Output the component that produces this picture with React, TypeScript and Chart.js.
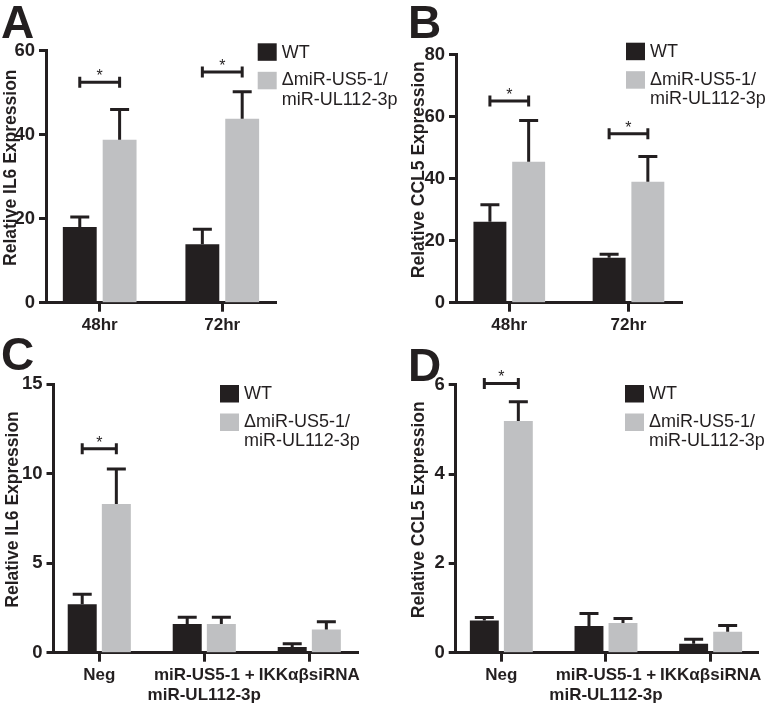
import React, { useEffect, useRef } from 'react';
import { Chart, registerables } from 'chart.js';

Chart.register(...registerables);

const FONT = '"Liberation Sans", Arial, Helvetica, sans-serif';
const INK = '#231f20';
const GREY = '#bfc0c2';

// Legend / series names
const seriesWT = 'WT';
const seriesKO = ['\u0394miR-US5-1/', 'miR-UL112-3p'];

// Categories
const timeCats: (string | string[])[] = ['48hr', '72hr'];
const treatCats: (string | string[])[] = ['Neg', ['miR-US5-1 +', 'miR-UL112-3p'], 'IKK\u03b1\u03b2siRNA'];

// Panel A – Relative IL6 Expression (time course)
const aWT = [18.0, 13.9];
const aWTErr = [2.4, 3.6];
const aKO = [38.8, 43.8];
const aKOErr = [7.2, 6.4];
const aSig = [52.5, 54.9];

// Panel B – Relative CCL5 Expression (time course)
const bWT = [26.1, 14.5];
const bWTErr = [5.5, 1.1];
const bKO = [45.5, 39.0];
const bKOErr = [13.3, 8.2];
const bSig = [65.1, 54.5];

// Panel C – Relative IL6 Expression (treatments)
const cWT = [2.7, 1.6, 0.32];
const cWTErr = [0.56, 0.38, 0.18];
const cKO = [8.31, 1.6, 1.29];
const cKOErr = [1.95, 0.38, 0.44];
const cSig = [11.4, null, null];

// Panel D – Relative CCL5 Expression (treatments)
const dWT = [0.72, 0.6, 0.2];
const dWTErr = [0.07, 0.28, 0.1];
const dKO = [5.19, 0.665, 0.47];
const dKOErr = [0.43, 0.1, 0.14];
const dSig = [6.03, null, null];

type PanelCfg = {
  letter: string;
  letterX: number;
  letterY: number;
  title: string;
  titleX: number;
  cats: (string | string[])[];
  wt: number[];
  wtErr: number[];
  ko: number[];
  koErr: number[];
  sig: (number | null)[];
  yMax: number;
  yStep: number;
  area: { left: number; top: number; right: number; bottom: number };
  xMin: number;
  xMax: number;
  legend: { x: number; y: number };
};

const W = 766;
const H = 706;
const Y_W = 40;
const X_H = 53;

const panels: PanelCfg[] = [
  {
    letter: 'A', letterX: 1, letterY: 37.5, title: 'Relative IL6 Expression', titleX: 11,
    cats: timeCats, wt: aWT, wtErr: aWTErr, ko: aKO, koErr: aKOErr, sig: aSig,
    yMax: 60, yStep: 20,
    area: { left: 46, top: 50.7, right: 276.7, bottom: 302.7 },
    xMin: -0.438, xMax: 1.444,
    legend: { x: 257.7, y: 43.3 },
  },
  {
    letter: 'B', letterX: 408, letterY: 37.5, title: 'Relative CCL5 Expression', titleX: 419,
    cats: timeCats, wt: bWT, wtErr: bWTErr, ko: bKO, koErr: bKOErr, sig: bSig,
    yMax: 80, yStep: 20,
    area: { left: 456, top: 54.7, right: 682, bottom: 302.7 },
    xMin: -0.447, xMax: 1.449,
    legend: { x: 626, y: 42.7 },
  },
  {
    letter: 'C', letterX: 1, letterY: 370, title: 'Relative IL6 Expression', titleX: 13,
    cats: treatCats, wt: cWT, wtErr: cWTErr, ko: cKO, koErr: cKOErr, sig: cSig,
    yMax: 15, yStep: 5,
    area: { left: 53.5, top: 384.2, right: 358, bottom: 652.7 },
    xMin: -0.436, xMax: 2.464,
    legend: { x: 220, y: 385 },
  },
  {
    letter: 'D', letterX: 408, letterY: 381, title: 'Relative CCL5 Expression', titleX: 419,
    cats: treatCats, wt: dWT, wtErr: dWTErr, ko: dKO, koErr: dKOErr, sig: dSig,
    yMax: 6, yStep: 2,
    area: { left: 455.7, top: 384.8, right: 761, bottom: 652.7 },
    xMin: -0.436, xMax: 2.46,
    legend: { x: 625, y: 385 },
  },
];

function makeChart(canvas: HTMLCanvasElement, cfg: PanelCfg) {
  const overlay = {
    id: 'overlay',
    afterDatasetsDraw(chart: any) {
      const ctx: CanvasRenderingContext2D = chart.ctx;
      const ys = chart.scales.y;
      const ca = chart.chartArea;
      const m0 = chart.getDatasetMeta(0);
      const m1 = chart.getDatasetMeta(1);
      ctx.save();
      ctx.strokeStyle = INK;
      ctx.fillStyle = INK;
      ctx.lineWidth = 3;
      ctx.lineCap = 'butt';
      // error bars (upper only)
      const sets: [any, number[], number[]][] = [
        [m0, cfg.wt, cfg.wtErr],
        [m1, cfg.ko, cfg.koErr],
      ];
      sets.forEach(([m, v, e]) => {
        m.data.forEach((bar: any, i: number) => {
          const yt = ys.getPixelForValue(v[i] + e[i]);
          ctx.beginPath();
          ctx.moveTo(bar.x, bar.y);
          ctx.lineTo(bar.x, yt);
          ctx.moveTo(bar.x - 9.5, yt);
          ctx.lineTo(bar.x + 9.5, yt);
          ctx.stroke();
        });
      });
      // significance brackets
      cfg.sig.forEach((s, i) => {
        if (s == null) return;
        const x1 = m0.data[i].x;
        const x2 = m1.data[i].x;
        const y = ys.getPixelForValue(s);
        ctx.beginPath();
        ctx.moveTo(x1, y);
        ctx.lineTo(x2, y);
        ctx.moveTo(x1, y - 5.5);
        ctx.lineTo(x1, y + 5.5);
        ctx.moveTo(x2, y - 5.5);
        ctx.lineTo(x2, y + 5.5);
        ctx.stroke();
        ctx.font = `16px ${FONT}`;
        ctx.textAlign = 'center';
        ctx.textBaseline = 'alphabetic';
        ctx.fillText('*', (x1 + x2) / 2, y - 1);
      });
      // legend
      const lx = cfg.legend.x;
      const ly = cfg.legend.y;
      ctx.fillStyle = INK;
      ctx.fillRect(lx, ly, 19, 17.5);
      ctx.fillStyle = GREY;
      ctx.fillRect(lx, ly + 28.5, 19, 17.5);
      ctx.fillStyle = INK;
      ctx.font = `18px ${FONT}`;
      ctx.textAlign = 'left';
      ctx.textBaseline = 'middle';
      ctx.fillText(seriesWT, lx + 24, ly + 9.5);
      ctx.fillText(seriesKO[0], lx + 24, ly + 37);
      ctx.fillText(seriesKO[1], lx + 24, ly + 56.5);
      // panel letter
      ctx.font = `bold 46px ${FONT}`;
      ctx.textBaseline = 'alphabetic';
      ctx.fillText(cfg.letter, cfg.letterX, cfg.letterY);
      // y axis title
      ctx.translate(cfg.titleX, (ca.top + ca.bottom) / 2 - 9);
      ctx.rotate(-Math.PI / 2);
      ctx.font = `bold 17.5px ${FONT}`;
      ctx.textAlign = 'center';
      ctx.textBaseline = 'middle';
      ctx.fillText(cfg.title, 0, 0);
      ctx.restore();
    },
  };

  const tickFont = { family: FONT, size: 17, weight: 'bold' as const, lineHeight: 1.17 };

  return new Chart(canvas, {
    type: 'bar',
    data: {
      datasets: [
        {
          label: seriesWT,
          data: cfg.wt.map((y, i) => ({ x: i, y })),
          backgroundColor: INK,
          borderWidth: 0,
          categoryPercentage: 0.65,
          barPercentage: 0.85,
        },
        {
          label: seriesKO.join(''),
          data: cfg.ko.map((y, i) => ({ x: i, y })),
          backgroundColor: GREY,
          borderWidth: 0,
          categoryPercentage: 0.65,
          barPercentage: 0.85,
        },
      ],
    },
    options: {
      responsive: false,
      animation: false,
      devicePixelRatio: 1,
      events: [],
      layout: {
        padding: {
          left: cfg.area.left - Y_W,
          top: cfg.area.top,
          right: W - cfg.area.right,
          bottom: Math.max(0, H - cfg.area.bottom - X_H),
        },
      },
      plugins: {
        legend: { display: false },
        tooltip: { enabled: false },
        title: { display: false },
      },
      scales: {
        x: {
          type: 'linear',
          min: cfg.xMin,
          max: cfg.xMax,
          bounds: 'data',
          offset: false,
          afterBuildTicks: (s: any) => {
            s.ticks = cfg.cats.map((_, i) => ({ value: i }));
          },
          afterFit: (s: any) => {
            s.height = X_H;
          },
          ticks: {
            callback: (v: any) => cfg.cats[v as number] as any,
            font: tickFont,
            color: INK,
            padding: 4,
            maxRotation: 0,
            minRotation: 0,
            autoSkip: false,
          },
          grid: {
            display: true,
            drawOnChartArea: false,
            drawTicks: true,
            tickLength: 9,
            tickWidth: 3,
            tickColor: INK,
            offset: false,
          },
          border: { display: true, color: INK, width: 3 },
        },
        y: {
          type: 'linear',
          min: 0,
          max: cfg.yMax,
          afterFit: (s: any) => {
            s.width = Y_W;
          },
          ticks: {
            stepSize: cfg.yStep,
            font: { family: FONT, size: 18.5, weight: 'bold' },
            color: INK,
            padding: 4,
          },
          grid: {
            display: true,
            drawOnChartArea: false,
            drawTicks: true,
            tickLength: 7,
            tickWidth: 3,
            tickColor: INK,
          },
          border: { display: true, color: INK, width: 3 },
        },
      },
    } as any,
    plugins: [overlay],
  });
}

function Panel({ cfg }: { cfg: PanelCfg }) {
  const ref = useRef<HTMLCanvasElement | null>(null);
  useEffect(() => {
    if (!ref.current) return;
    const chart = makeChart(ref.current, cfg);
    return () => chart.destroy();
  }, [cfg]);
  return (
    <canvas
      ref={ref}
      width={W}
      height={H}
      style={{ position: 'absolute', left: 0, top: 0, width: W, height: H }}
    />
  );
}

export default function App() {
  return (
    <div
      style={{
        position: 'absolute',
        left: 0,
        top: 0,
        width: W,
        height: H,
        background: '#ffffff',
        overflow: 'hidden',
      }}
    >
      {panels.map((p) => (
        <Panel key={p.letter} cfg={p} />
      ))}
    </div>
  );
}
